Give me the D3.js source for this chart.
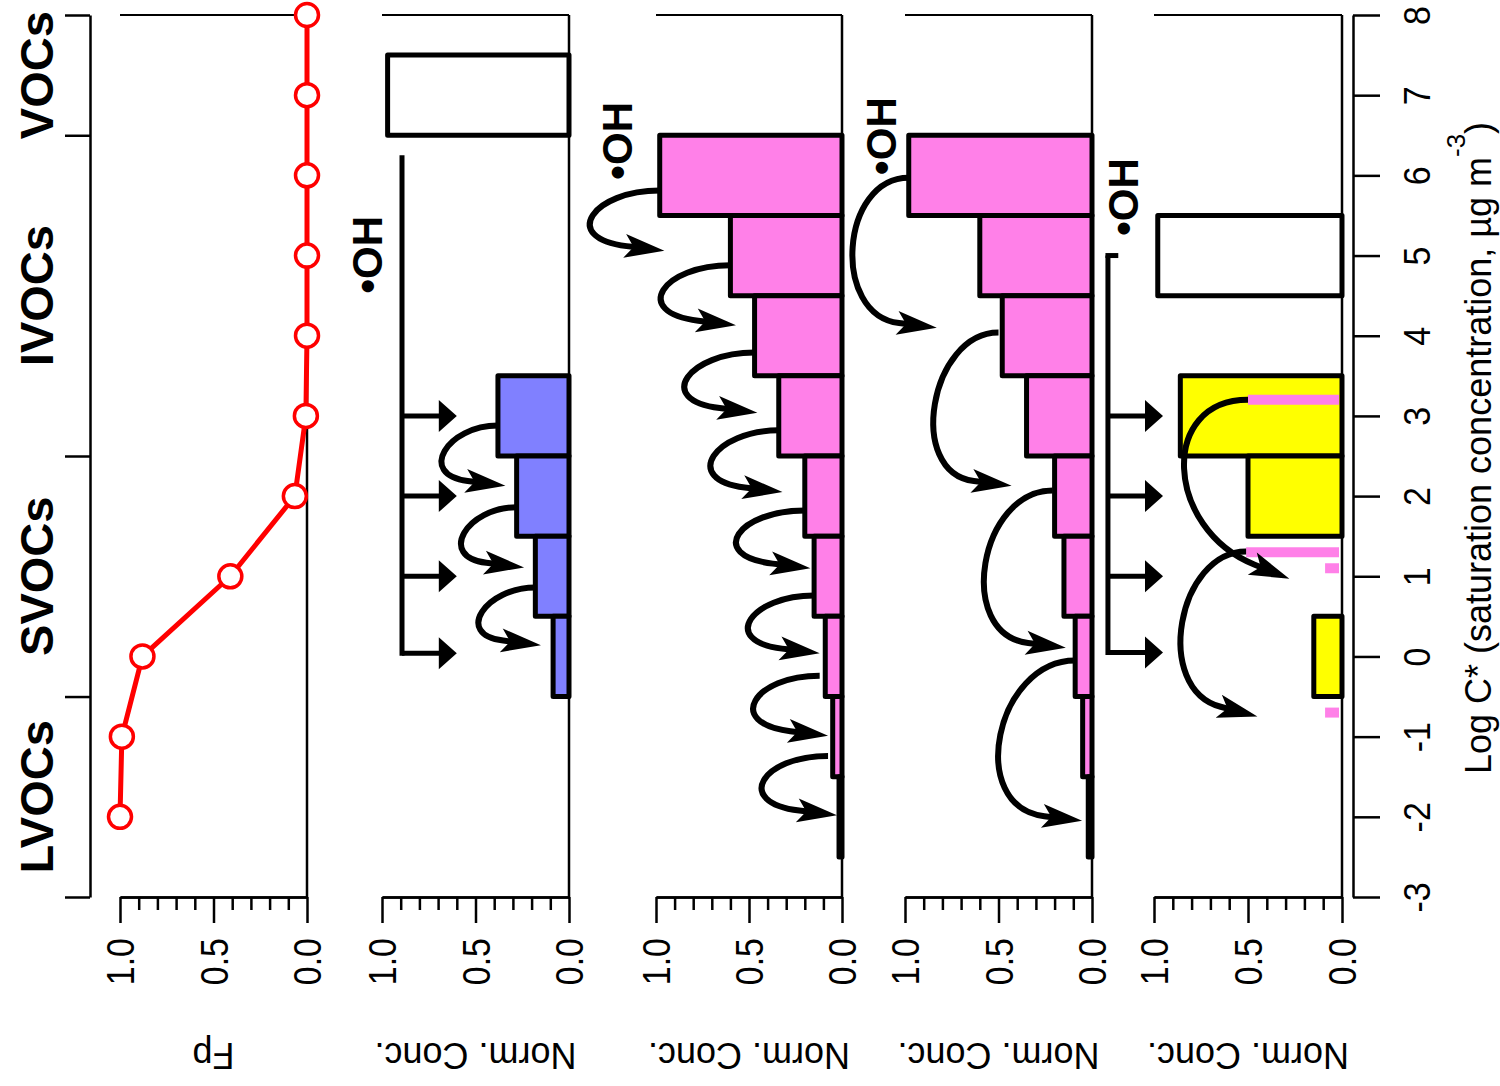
<!DOCTYPE html>
<html>
<head>
<meta charset="utf-8">
<script src="https://cdn.jsdelivr.net/npm/d3@7"></script>
<style>
  body { margin: 0; background: #fff; }
  svg { display: block; }
  text { font-family: "Liberation Sans", Arial, Helvetica, sans-serif; fill: #000; }
</style>
</head>
<body>
<svg id="chart" width="1500" height="1086"></svg>
<script>
// ---- Volatility basis set: log10 C* bins (µg m-3) ----
const logCTicks = [-3, -2, -1, 0, 1, 2, 3, 4, 5, 6, 7, 8];

// Volatility classes and their bin boundaries
const classBounds = [-3, -0.5, 2.5, 6.5, 8];
const classNames = ["LVOCs", "SVOCs", "IVOCs", "VOCs"];

// Particle-phase fraction Fp for each bin
const fpBins = [-2, -1, 0, 1, 2, 3, 4, 5, 6, 7, 8];
const fpValues = [1.0, 0.99, 0.88, 0.41, 0.065, 0.006, 0, 0, 0, 0, 0];

// Normalised-concentration axis ticks
const normMajorTicks = [0, 0.5, 1];
const normMinorTicks = [0.1, 0.2, 0.3, 0.4, 0.6, 0.7, 0.8, 0.9];

// Panel 2: precursor VOC and first-generation products
const p2VocBins = [7];
const p2VocConc = [0.97];
const p2ProdBins = [3, 2, 1, 0];
const p2ProdConc = [0.38, 0.28, 0.18, 0.085];

// Panel 3: functionalisation sequence
const p3Bins = [6, 5, 4, 3, 2, 1, 0, -1, -2];
const p3Conc = [0.98, 0.60, 0.47, 0.34, 0.20, 0.15, 0.09, 0.05, 0.016];

// Panel 4: faster functionalisation (two-bin steps)
const p4Bins = [6, 5, 4, 3, 2, 1, 0, -1, -2];
const p4Conc = [0.98, 0.60, 0.48, 0.35, 0.20, 0.15, 0.09, 0.05, 0.02];

// Panel 5: precursor IVOC and products
const p5VocBins = [5];
const p5VocConc = [0.98];
const p5ProdBins = [3, 2, 0];
const p5ProdConc = [0.86, 0.50, 0.15];
const p5MarkLogC = [3.2, 1.3, 1.1, -0.7];
const p5MarkConc = [0.50, 0.51, 0.09, 0.09];

// Reaction arrows: [from logC, from conc, to logC, to conc, leftmost conc]
const p2Arrows = [
  [2.88, 0.38, 2.13, 0.34, 0.665],
  [1.86, 0.28, 1.11, 0.24, 0.56],
  [0.86, 0.18, 0.14, 0.15, 0.465]
];
const p3Arrows = [
  [5.81, 0.98, 5.06, 0.955, 1.34],
  [4.88, 0.60, 4.13, 0.57, 0.96],
  [3.79, 0.47, 3.04, 0.455, 0.83],
  [2.82, 0.34, 2.05, 0.32, 0.69],
  [1.82, 0.20, 1.10, 0.17, 0.555],
  [0.76, 0.15, 0.04, 0.12, 0.49],
  [-0.24, 0.12, -0.99, 0.075, 0.465],
  [-1.24, 0.075, -1.98, 0.027, 0.42]
];
const p4Arrows = [
  [5.97, 0.98, 4.10, 0.83, 1.28],
  [4.04, 0.50, 2.13, 0.43, 0.84],
  [2.07, 0.21, 0.11, 0.14, 0.57],
  [-0.05, 0.09, -2.05, 0.053, 0.49]
];
const p5Arrows = [
  [3.2, 0.50, 0.97, 0.28, 0.84],
  [1.31, 0.51, -0.75, 0.45, 0.85]
];

// OH oxidant feed lines: rail conc, rail top/bottom logC, arrow logC, arrow tip conc
const p2OH = { rail: 0.893, top: 6.25, bottom: 0.04, arrowsAt: [3, 2, 1, 0.04], tip: 0.60, stub: null };
const p5OH = { rail: 1.245, top: 5.0, bottom: 0.05, arrowsAt: [3, 2, 1, 0.05], tip: 0.952, stub: 1.19 };

// "•OH" label anchors: [logC centre, conc at text baseline]
const ohLabels = [[5.01, 1.0], [6.43, 1.13], [6.49, 1.05], [5.73, 1.085]];

// ---- layout ----
const W = 1500, H = 1086;
const svg = d3.select("#chart");
svg.append("rect").attr("width", W).attr("height", H).attr("fill", "#fff");

const yC = d3.scaleLinear().domain([-3, 8]).range([897, 15]);
const panelRanges = [[120, 307], [382, 569], [656, 842], [905, 1092], [1154, 1342]];
const xs = panelRanges.map(r => d3.scaleLinear().domain([1, 0]).range(r));

const BLUE = "#8080ff", PINK = "#ff80e8", YELLOW = "#ffff00", RED = "#ff0000";

function styleAxis(sel, w) {
  sel.select(".domain").attr("stroke", "#000").attr("stroke-width", w);
  sel.selectAll(".tick line").attr("stroke", "#000").attr("stroke-width", w);
}

// Frame (top line + zero line) and the bottom normalised axis for a panel
function drawFrame(g, x, title) {
  g.append("line").attr("x1", x(1)).attr("x2", x(0)).attr("y1", yC(8)).attr("y2", yC(8))
    .attr("stroke", "#000").attr("stroke-width", 2);
  g.append("line").attr("x1", x(0)).attr("x2", x(0)).attr("y1", yC(8)).attr("y2", yC(-3))
    .attr("stroke", "#000").attr("stroke-width", 2.5);

  const minor = g.append("g").attr("transform", `translate(0,${yC(-3)})`)
    .call(d3.axisBottom(x).tickValues(normMinorTicks).tickSize(13).tickSizeOuter(0).tickFormat(""));
  styleAxis(minor, 2.5);
  const major = g.append("g").attr("transform", `translate(0,${yC(-3)})`)
    .call(d3.axisBottom(x).tickValues(normMajorTicks).tickSize(26).tickSizeOuter(0).tickFormat(d3.format(".1f")));
  styleAxis(major, 2.5);
  major.selectAll("text")
    .attr("x", -41).attr("y", 0).attr("dy", "0.36em")
    .attr("transform", "rotate(-90) scale(1,1.12)")
    .attr("text-anchor", "end")
    .style("font-size", "34px")
    .style("font-family", "'Liberation Sans', Arial, sans-serif");

  const cx = (x(0) + x(1)) / 2;
  g.append("text").attr("transform", `translate(${cx},1043) rotate(180)`)
    .attr("text-anchor", "middle").style("font-size", "36px").text(title);
}

function drawBars(g, x, bins, conc, fill) {
  g.append("g").selectAll("rect")
    .data(bins.map((b, i) => ({ b, c: conc[i] })))
    .join("rect")
    .attr("x", d => x(d.c))
    .attr("y", d => yC(d.b + 0.5))
    .attr("width", d => x(0) - x(d.c))
    .attr("height", d => yC(d.b - 0.5) - yC(d.b + 0.5))
    .attr("fill", fill)
    .attr("stroke", "#000")
    .attr("stroke-width", 5)
    .attr("stroke-linejoin", "round");
}

// Curved reaction arrow leaving a bar, looping left and returning to a lower bin
function drawCurvedArrows(g, x, arrows, tiltDeg) {
  const L = 38, Wd = 24;
  arrows.forEach((a, i) => {
    const s = [x(a[1]), yC(a[0])];
    const t = [x(a[3]), yC(a[2])];
    const leftX = x(a[4]);
    const tilt = Array.isArray(tiltDeg) ? tiltDeg[i] : tiltDeg;
    const th = tilt * Math.PI / 180;
    const u = [Math.cos(th), Math.sin(th)];
    const B = [t[0] - L * u[0], t[1] - L * u[1]];
    const k = (0.5 * (s[0] + B[0]) - leftX) / 0.75;
    const c1 = [s[0] - k, s[1]];
    const c2 = [B[0] - k, B[1] - k * u[1] / u[0]];
    const E = [B[0] + 8 * u[0], B[1] + 8 * u[1]];
    const p = d3.path();
    p.moveTo(s[0], s[1]);
    p.bezierCurveTo(c1[0], c1[1], c2[0], c2[1], B[0], B[1]);
    p.lineTo(E[0], E[1]);
    g.append("path").attr("d", p.toString()).attr("fill", "none")
      .attr("stroke", "#000").attr("stroke-width", 6);
    const n = [-u[1], u[0]];
    const b1 = [B[0] + n[0] * Wd / 2 - u[0] * 2, B[1] + n[1] * Wd / 2 - u[1] * 2];
    const b2 = [B[0] - n[0] * Wd / 2 - u[0] * 2, B[1] - n[1] * Wd / 2 - u[1] * 2];
    const notch = [B[0] + u[0] * 7, B[1] + u[1] * 7];
    g.append("path")
      .attr("d", `M${t[0]},${t[1]}L${b1[0]},${b1[1]}L${notch[0]},${notch[1]}L${b2[0]},${b2[1]}Z`)
      .attr("fill", "#000");
  });
}

// OH feed: vertical rail with straight arrows into each product bin
function drawOHFeed(g, x, f) {
  const rx = x(f.rail);
  g.append("line").attr("x1", rx).attr("x2", rx)
    .attr("y1", yC(f.top)).attr("y2", yC(f.bottom) + 2.5)
    .attr("stroke", "#000").attr("stroke-width", 5);
  if (f.stub !== null) {
    g.append("line").attr("x1", rx - 2.5).attr("x2", x(f.stub))
      .attr("y1", yC(f.top)).attr("y2", yC(f.top))
      .attr("stroke", "#000").attr("stroke-width", 5);
  }
  const tip = x(f.tip);
  f.arrowsAt.forEach(c => {
    const y = yC(c);
    g.append("line").attr("x1", rx).attr("x2", tip - 14).attr("y1", y).attr("y2", y)
      .attr("stroke", "#000").attr("stroke-width", 5);
    g.append("path").attr("d", `M${tip},${y}L${tip - 18},${y - 16}L${tip - 18},${y + 16}Z`).attr("fill", "#000");
  });
}

function drawOHLabel(g, x, lab) {
  g.append("text")
    .attr("transform", `translate(${x(lab[1])},${yC(lab[0])}) rotate(-90)`)
    .attr("text-anchor", "middle")
    .style("font-size", "42px").style("font-weight", "bold")
    .text("\u2022OH");
}

// ---- left: volatility-class bracket ----
const bracket = svg.append("g").attr("transform", "translate(90,0)")
  .call(d3.axisLeft(yC).tickValues(classBounds).tickSize(25).tickSizeOuter(0).tickFormat(""));
styleAxis(bracket, 2.5);
classNames.forEach((name, i) => {
  const mid = (classBounds[i] + classBounds[i + 1]) / 2;
  svg.append("text")
    .attr("transform", `translate(53,${yC(mid)}) rotate(-90)`)
    .attr("text-anchor", "middle")
    .style("font-size", "47px").style("font-weight", "bold")
    .text(name);
});

// ---- panel 1: Fp ----
const g1 = svg.append("g");
drawFrame(g1, xs[0], "Fp");
const fpData = fpBins.map((b, i) => ({ b, v: fpValues[i] }));
g1.append("path").datum(fpData)
  .attr("d", d3.line().x(d => xs[0](d.v)).y(d => yC(d.b)))
  .attr("fill", "none").attr("stroke", RED).attr("stroke-width", 5).attr("stroke-linejoin", "round");
g1.selectAll("circle").data(fpData).join("circle")
  .attr("cx", d => xs[0](d.v)).attr("cy", d => yC(d.b)).attr("r", 11.5)
  .attr("fill", "#fff").attr("stroke", RED).attr("stroke-width", 3.5);

// ---- panel 2 ----
const g2 = svg.append("g");
drawFrame(g2, xs[1], "Norm. Conc.");
drawBars(g2, xs[1], p2VocBins, p2VocConc, "#fff");
drawBars(g2, xs[1], p2ProdBins, p2ProdConc, BLUE);
drawOHFeed(g2, xs[1], p2OH);
drawCurvedArrows(g2, xs[1], p2Arrows, 7);
drawOHLabel(g2, xs[1], ohLabels[0]);

// ---- panel 3 ----
const g3 = svg.append("g");
drawFrame(g3, xs[2], "Norm. Conc.");
drawBars(g3, xs[2], p3Bins, p3Conc, PINK);
drawCurvedArrows(g3, xs[2], p3Arrows, 7);
drawOHLabel(g3, xs[2], ohLabels[1]);

// ---- panel 4 ----
const g4 = svg.append("g");
drawFrame(g4, xs[3], "Norm. Conc.");
drawBars(g4, xs[3], p4Bins, p4Conc, PINK);
drawCurvedArrows(g4, xs[3], p4Arrows, 7);
drawOHLabel(g4, xs[3], ohLabels[2]);

// ---- panel 5 ----
const g5 = svg.append("g");
drawFrame(g5, xs[4], "Norm. Conc.");
drawBars(g5, xs[4], p5VocBins, p5VocConc, "#fff");
drawBars(g5, xs[4], p5ProdBins, p5ProdConc, YELLOW);
g5.selectAll("line.mark")
  .data(p5MarkLogC.map((c, i) => ({ c, v: p5MarkConc[i] })))
  .join("line").attr("class", "mark")
  .attr("x1", d => xs[4](d.v)).attr("x2", d => xs[4](0) - 3)
  .attr("y1", d => yC(d.c)).attr("y2", d => yC(d.c))
  .attr("stroke", PINK).attr("stroke-width", 10);
drawOHFeed(g5, xs[4], p5OH);
drawCurvedArrows(g5, xs[4], p5Arrows, [22, 15]);
drawOHLabel(g5, xs[4], ohLabels[3]);

// ---- right: log C* axis ----
const rAx = svg.append("g").attr("transform", "translate(1353,0)")
  .call(d3.axisRight(yC).tickValues(logCTicks).tickSize(27).tickSizeOuter(0).tickFormat(d => String(d)));
styleAxis(rAx, 2.5);
rAx.selectAll("text")
  .attr("x", 0).attr("y", 0).attr("dy", 0)
  .attr("transform", "translate(77,0) rotate(-90) scale(1,1.1)")
  .attr("text-anchor", "middle")
  .style("font-size", "34px")
  .style("font-family", "'Liberation Sans', Arial, sans-serif");

const title = svg.append("text")
  .attr("transform", `translate(1491,${yC(2.6)}) rotate(-90)`)
  .attr("text-anchor", "middle")
  .style("font-size", "36px");
title.append("tspan").text("Log C* (saturation concentration, \u00b5g m");
title.append("tspan").attr("dy", -26).style("font-size", "26px").text("-3");
title.append("tspan").attr("dy", 26).text(")");
</script>
</body>
</html>
